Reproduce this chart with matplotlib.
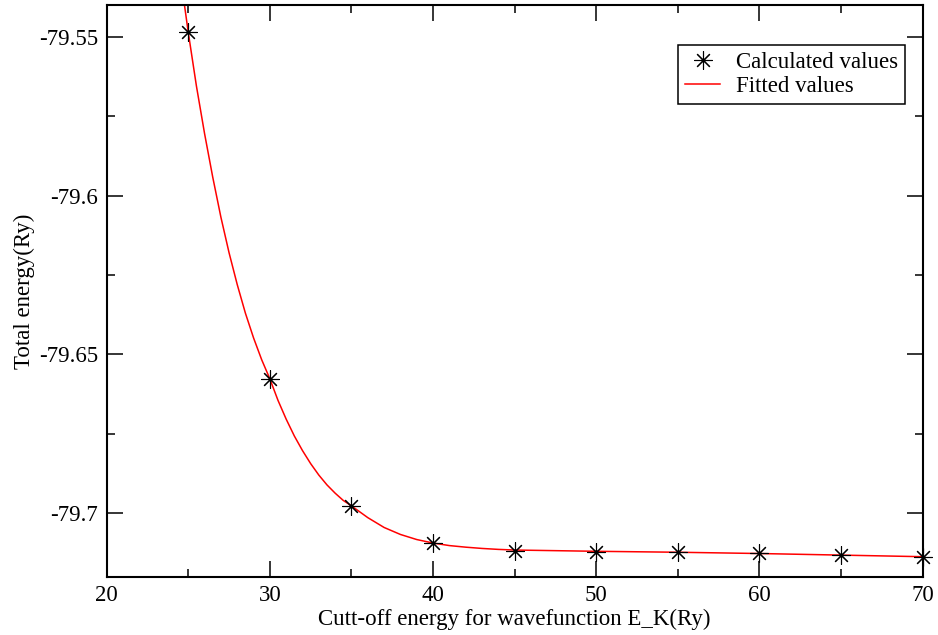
import matplotlib
matplotlib.use("Agg")
import matplotlib.pyplot as plt
from matplotlib.ticker import MultipleLocator

# calculated total energies (Ry) vs cut-off energy (Ry)
ecut = [25, 30, 35, 40, 45, 50, 55, 60, 65, 70]
energy = [-79.5486, -79.6577, -79.6976, -79.7095, -79.7118,
          -79.7121, -79.7123, -79.7126, -79.7133, -79.7137]

# fitted curve
fit_x = [24.7, 25, 25.5, 26, 26.5, 27, 27.5, 28, 28.5, 29, 29.5, 30,
         30.5, 31, 31.5, 32, 32.5, 33, 33.5, 34, 34.5, 35,
         36, 37, 38, 39, 40, 41, 42, 43, 44, 45,
         50, 55, 60, 65, 70]
fit_y = [-79.5375, -79.5486, -79.5655, -79.5805, -79.5942, -79.6068,
         -79.6180, -79.6280, -79.6370, -79.6448, -79.6517, -79.6577,
         -79.6645, -79.6704, -79.6757, -79.6803, -79.6844, -79.6880,
         -79.6911, -79.6937, -79.6960, -79.6977,
         -79.7014, -79.7045, -79.7067, -79.7083, -79.7094, -79.7102,
         -79.7107, -79.7111, -79.7114, -79.7116,
         -79.7120, -79.7123, -79.7127, -79.7132, -79.7137]

plt.rcParams["font.family"] = ["Liberation Serif", "DejaVu Serif"]
plt.rcParams["font.size"] = 16.5

fig = plt.figure(figsize=(9.38, 6.35), dpi=100)
ax = fig.add_axes([0.1137, 0.0918, 0.870, 0.9003])

ax.plot(fit_x, fit_y, color="red", lw=1.1, label="Fitted values", zorder=2)
ax.plot(ecut, energy, ls="none", marker=(8, 2, 0), ms=13, mew=0.8,
        color="black", label="Calculated values", zorder=3, clip_on=False)

ax.set_xlim(20, 70)
ax.set_ylim(-79.72, -79.54)
ax.xaxis.set_major_locator(MultipleLocator(10))
ax.xaxis.set_minor_locator(MultipleLocator(5))
ax.yaxis.set_minor_locator(MultipleLocator(0.025))
ax.set_yticks([-79.7, -79.65, -79.6, -79.55])
ax.set_yticklabels(["-79.7", "-79.65", "-79.6", "-79.55"])

ax.tick_params(which="both", direction="in", top=True, right=True,
               labelsize=16.5, width=1.1)
ax.tick_params(which="major", length=11.5, pad=6)
ax.tick_params(which="minor", length=5.8)
for sp in ax.spines.values():
    sp.set_linewidth(1.5)

ax.set_xlabel("Cutt-off energy for wavefunction E_K(Ry)", fontsize=16.5, labelpad=2)
ax.set_ylabel("Total energy(Ry)", fontsize=16.5, labelpad=3)

handles, labels = ax.get_legend_handles_labels()
leg = ax.legend(handles[::-1], labels[::-1], loc="upper right",
                bbox_to_anchor=(0.978, 0.930), fontsize=16.5, frameon=True,
                fancybox=False, edgecolor="black", framealpha=1,
                handlelength=1.5, handletextpad=0.7, labelspacing=0.12,
                borderpad=0.3, borderaxespad=0)
leg.get_frame().set_linewidth(1.1)

fig.savefig("out.png", dpi=100)
